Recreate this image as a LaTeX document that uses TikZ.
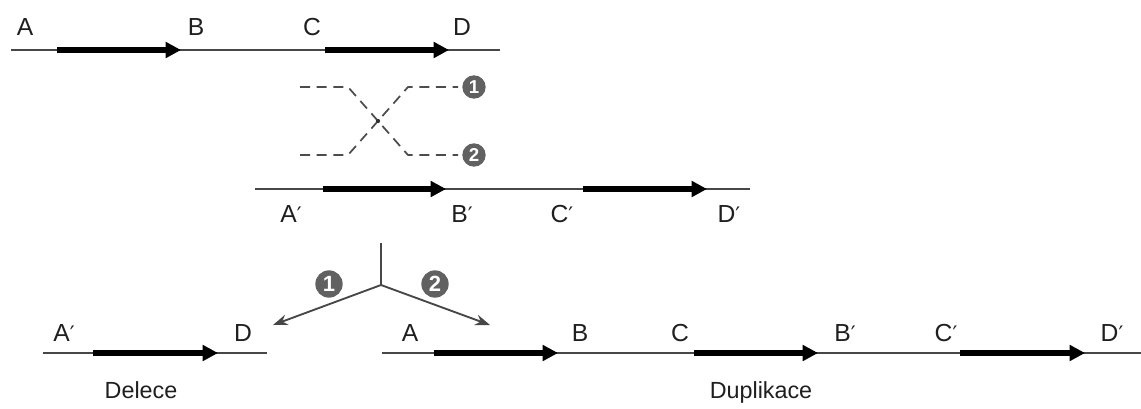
\documentclass[tikz,border=0pt]{standalone}
\usepackage{fontspec}
\setmainfont{Liberation Sans}
\newfontfamily\djv{DejaVu Sans}
\usetikzlibrary{arrows.meta}
\newcommand\prm{{\djv\fontsize{16}{18}\selectfont ′}}
\begin{document}
\begin{tikzpicture}[x=0.75pt,y=-0.75pt,
  strand/.style={draw=black!72, line width=1.4pt},
  gene/.style={draw=black, line width=4pt, -{Triangle[length=11.5pt,width=11.5pt]}, shorten >=0pt},
  lbl/.style={anchor=base, inner sep=0pt, font=\fontsize{18.5}{21}\selectfont, text=black!88},
  captext/.style={anchor=base, inner sep=0pt, font=\fontsize{17.5}{20}\selectfont, text=black!88},
  xover/.style={draw=black!70, line width=1.3pt, dash pattern=on 7.5pt off 5pt},
  num/.style={circle, fill=black!62, text=white, inner sep=0pt, minimum size=17.5pt, font=\bfseries\fontsize{14}{15}\selectfont},
  bignum/.style={num, minimum size=20.5pt, font=\bfseries\fontsize{16.5}{17}\selectfont},
  fork/.style={draw=black!72, line width=1.4pt},
  forkarrow/.style={fork, -{Stealth[length=11pt,width=8pt]}}
]
\useasboundingbox (0,0) rectangle (1141,408);

% ---------- top strand ----------
\coordinate (t0) at (11,50);
\coordinate (t1) at (500,50);
\draw[strand] (t0) -- (t1);
\coordinate (ta1) at (57,50);  \coordinate (ta2) at (181,50);
\coordinate (tc1) at (325,50); \coordinate (tc2) at (449,50);
\draw[gene] (ta1) -- (ta2);
\draw[gene] (tc1) -- (tc2);
\node[lbl] (tA) at (25,35) {A};
\node[lbl] (tB) at (196,35) {B};
\node[lbl] (tC) at (312,35) {C};
\node[lbl] (tD) at (462,35) {D};

% ---------- crossover ----------
\node[num] (n1) at (474,87) {1};
\node[num] (n2) at (474,155) {2};
\coordinate (x1a) at (300,87);  \coordinate (x1b) at (348,87);
\coordinate (x1c) at (408,155);
\coordinate (x2a) at (300,155); \coordinate (x2b) at (348,155);
\coordinate (x2c) at (408,87);
\draw[xover] (x1a) -- (x1b) -- (x1c) -- ([xshift=-3pt]n2.west);
\draw[xover] (x2a) -- (x2b) -- (x2c) -- ([xshift=-3pt]n1.west);
\coordinate (xc) at (378,121);
\fill[black!80] (xc) circle (1.6pt);

% ---------- middle strand ----------
\coordinate (m0) at (255,189);
\coordinate (m1) at (750,189);
\draw[strand] (m0) -- (m1);
\coordinate (ma1) at (323,189); \coordinate (ma2) at (446,189);
\coordinate (mc1) at (583,189); \coordinate (mc2) at (707,189);
\draw[gene] (ma1) -- (ma2);
\draw[gene] (mc1) -- (mc2);
\node[lbl] (mA) at (291,222) {A\prm};
\node[lbl] (mB) at (462,222) {B\prm};
\node[lbl] (mC) at (562,222) {C\prm};
\node[lbl] (mD) at (729,222) {D\prm};

% ---------- fork ----------
\coordinate (f0) at (381,243);
\coordinate (f1) at (381,285);
\coordinate (fl) at (273,325);
\coordinate (fr) at (490,325);
\draw[fork] (f0) -- (f1);
\draw[forkarrow] (f1) -- (fl);
\draw[forkarrow] (f1) -- (fr);
\node[bignum] (k1) at (329,284) {1};
\node[bignum] (k2) at (435,284) {2};

% ---------- deletion ----------
\coordinate (d0) at (43,353);
\coordinate (d1) at (267,353);
\draw[strand] (d0) -- (d1);
\coordinate (da1) at (93,353); \coordinate (da2) at (218,353);
\draw[gene] (da1) -- (da2);
\node[lbl] (dA) at (64,341) {A\prm};
\node[lbl] (dD) at (243,341) {D};
\node[captext] (del) at (141,398) {Delece};

% ---------- duplication ----------
\coordinate (u0) at (382,353);
\coordinate (u1) at (1141,353);
\draw[strand] (u0) -- (u1);
\coordinate (ua1) at (434,353); \coordinate (ua2) at (558,353);
\coordinate (ub1) at (694,353); \coordinate (ub2) at (818,353);
\coordinate (uc1) at (960,353); \coordinate (uc2) at (1085,353);
\draw[gene] (ua1) -- (ua2);
\draw[gene] (ub1) -- (ub2);
\draw[gene] (uc1) -- (uc2);
\node[lbl] (uA) at (410,341) {A};
\node[lbl] (uB) at (580,341) {B};
\node[lbl] (uC) at (680,341) {C};
\node[lbl] (uB2) at (845,341) {B\prm};
\node[lbl] (uC2) at (946,341) {C\prm};
\node[lbl] (uD2) at (1112,341) {D\prm};
\node[captext] (dup) at (761,398) {Duplikace};
\end{tikzpicture}
\end{document}
